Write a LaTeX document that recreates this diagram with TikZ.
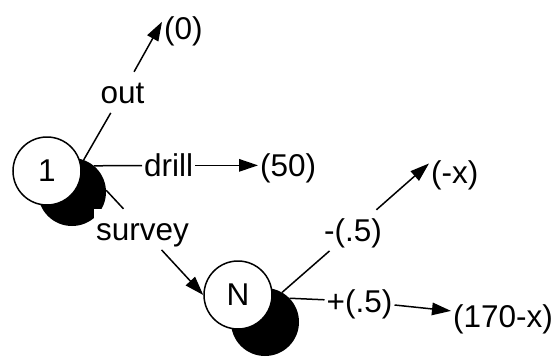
\documentclass[tikz,border=0pt]{standalone}
\usepackage{fontspec}
\setmainfont{Liberation Sans}
\usetikzlibrary{arrows.meta}
\begin{document}
\begin{tikzpicture}[x=1pt,y=-1pt,
  every node/.style={font=\fontsize{31.5}{38}\selectfont},
  state/.style={circle, draw=black, fill=white, line width=1.5pt, minimum size=68pt, inner sep=0pt},
  shadowdisk/.style={circle, fill=black, minimum size=68pt, inner sep=0pt},
  lbl/.style={anchor=base west, inner xsep=2pt, inner ysep=3pt, text height=28pt, text depth=6.7pt},
  link/.style={line width=1.5pt},
  arrowlink/.style={line width=1.5pt, -{Triangle[length=19pt,width=12.5pt]}}
]
\useasboundingbox (0,0) rectangle (558,359);
\fill[white] (0,0) rectangle (558,359);

% decision / chance nodes with their drop shadows
\node[shadowdisk] (s1) at (72,192) {};
\node[state] (c1) at (47,171) {1};
\node[shadowdisk] (sN) at (265,322) {};
\node[state] (cN) at (238,295) {N};

% branch labels and payoffs
\node[lbl] (out) at (98.5,103) {out};
\node[lbl] (zero) at (162,39) {(0)};
\node[lbl] (drill) at (142,176) {drill};
\node[lbl] (fifty) at (258,176) {(50)};
\node[lbl, fill=white] (survey) at (94,240) {survey};
\node[lbl] (minus) at (322,241) {-(.5)};
\node[lbl] (negx) at (429,183) {(-x)};
\node[lbl] (plus) at (324.5,312) {+(.5)};
\node[lbl] (rest) at (451,327) {(170-x)};

% branches
\draw[link] (s1.70) -- (out);
\draw[arrowlink] (out) -- (zero.163);
\draw[link] (s1.50) -- (drill);
\draw[arrowlink] (drill) -- (fifty);
\draw[link] (s1.3) -- (survey);
\draw[arrowlink] (survey) -- (cN.west);
\draw[link] (sN.60) -- (minus);
\draw[arrowlink] (minus) -- (negx.161);
\draw[link] (sN.44) -- (plus);
\draw[arrowlink] (plus) -- (rest);
\end{tikzpicture}
\end{document}
